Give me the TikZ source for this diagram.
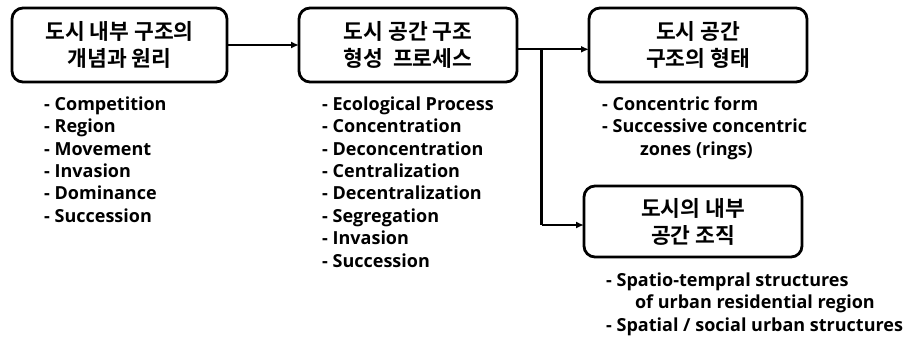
\documentclass[tikz,border=0pt]{standalone}
\usepackage{fontspec}
\setmainfont{Noto Sans CJK KR}[BoldFont={* Bold}]
\newfontfamily\listfont{Open Sans}[BoldFont={* Bold}]
\usetikzlibrary{arrows.meta}
\begin{document}
\begin{tikzpicture}[x=1pt,y=-1pt,
  stagebox/.style={draw=black, line width=2.8pt, rounded corners=11pt, fill=white},
  stagetext/.style={font=\bfseries\fontsize{21.5}{27}\selectfont, align=center},
  itemlist/.style={font=\listfont\bfseries\fontsize{18}{22.4}\selectfont, align=left, inner sep=0pt, anchor=north west},
  flow/.style={line width=2.2pt, -{Latex[length=8pt,width=7pt]}},
  link/.style={line width=2.2pt}]
\useasboundingbox (0,0) rectangle (908,338);
\fill[white] (0,0) rectangle (908,338);

% stage boxes
\draw[stagebox] (12,8) rectangle (227,82);
\node[stagetext] (s1) at (119.5,45) {도시 내부 구조의\\개념과 원리};
\draw[stagebox] (299,8) rectangle (517,82);
\node[stagetext] (s2) at (408,45) {도시 공간 구조\\형성\ \ 프로세스};
\draw[stagebox] (589,8) rectangle (807,82);
\node[stagetext] (s3) at (698,45) {도시 공간\\구조의 형태};
\draw[stagebox] (584,186) rectangle (802,257);
\node[stagetext] (s4) at (693,221.5) {도시의 내부\\공간 조직};

% connection points on the box edges
\coordinate (e1) at (227,45);
\coordinate (w2) at (299,45);
\coordinate (e2) at (517,49.3);
\coordinate (w3) at (589,49.3);
\coordinate (fork) at (541.5,49.3);
\coordinate (bend) at (541.5,225);
\coordinate (w4) at (584,225);

% connectors
\draw[flow] (e1) -- (w2);
\draw[flow] (e2) -- (w3);
\draw[link] (fork) -- (bend);
\draw[flow] (bend) -- (w4);

% item lists under each box
\node[itemlist] (l1) at (44,96.5) {- Competition\\- Region\\- Movement\\- Invasion\\- Dominance\\- Succession};
\node[itemlist] (l2) at (322,96.5) {- Ecological Process\\- Concentration\\- Deconcentration\\- Centralization\\- Decentralization\\- Segregation\\- Invasion\\- Succession};
\node[itemlist] (l3) at (602,96.5) {- Concentric form\\- Successive concentric\\\hspace{2.1em}zones (rings)};
\node[itemlist] (l4) at (606,272.5) {- Spatio-tempral structures\\\hspace{1.6em}of urban residential region\\- Spatial / social urban structures};
\end{tikzpicture}
\end{document}
